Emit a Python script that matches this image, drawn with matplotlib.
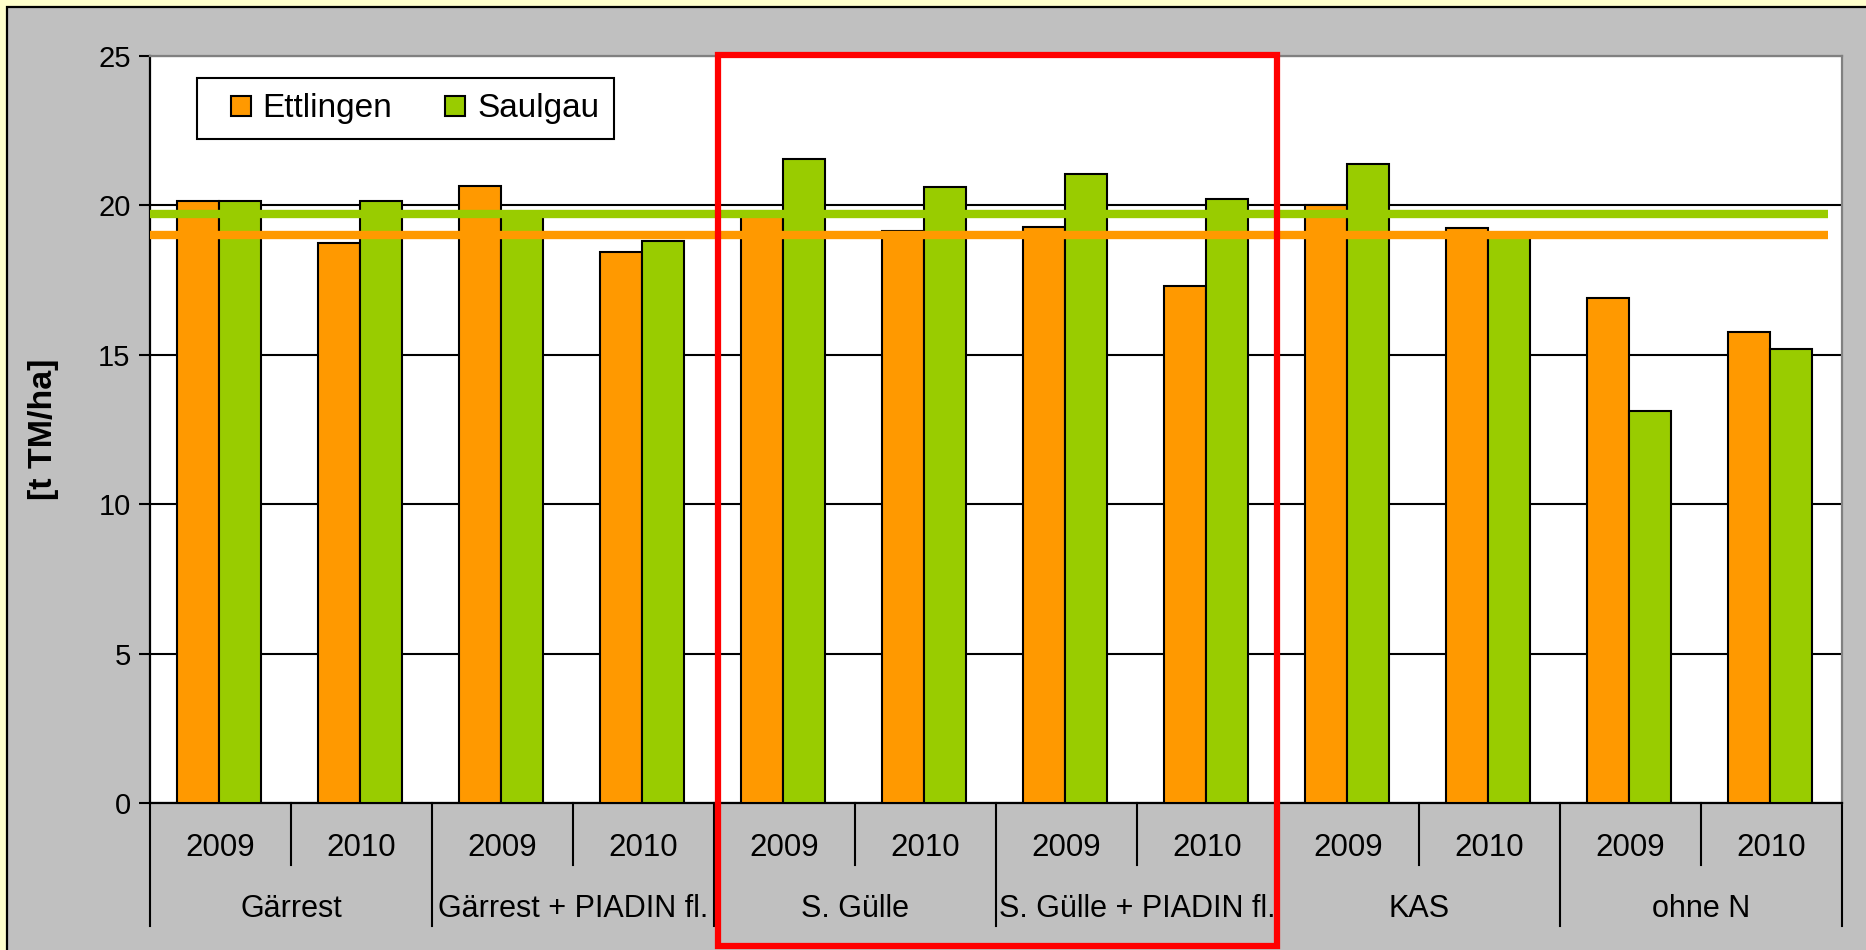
import matplotlib
matplotlib.use("Agg")
import matplotlib.pyplot as plt
from matplotlib.patches import Rectangle
from matplotlib.lines import Line2D
from matplotlib.transforms import blended_transform_factory
import numpy as np

# ---- data ----
groups = ["Gärrest", "Gärrest + PIADIN fl.", "S. Gülle", "S. Gülle + PIADIN fl.", "KAS", "ohne N"]
years = ["2009", "2010"]
series_names = ["Ettlingen", "Saulgau"]
ettlingen = [20.15, 18.75, 20.65, 18.45, 19.7, 19.15, 19.27, 17.3, 20.0, 19.25, 16.9, 15.75]
saulgau = [20.15, 20.15, 19.7, 18.82, 21.55, 20.6, 21.05, 20.22, 21.37, 19.0, 13.12, 15.18]
mean_ettlingen = 19.0
mean_saulgau = 19.7
highlight_groups = ["S. Gülle", "S. Gülle + PIADIN fl."]
yticks = [0, 5, 10, 15, 20, 25]
ylabel = "[t TM/ha]"

# ---- style ----
ORANGE = "#FF9900"
GREEN = "#99CC00"
GRAY = "#C0C0C0"
YELLOW = "#FFFFCC"
FONT = ["Liberation Sans", "DejaVu Sans"]
plt.rcParams["font.family"] = FONT

W, H = 1866, 950
fig = plt.figure(figsize=(W / 100, H / 100), dpi=100)
fig.patch.set_facecolor(YELLOW)

# gray chart area with black frame (only top/left edges visible)
bg = Rectangle((7 / W, -0.05), 1.2, 1 - 7 / H + 0.05, transform=fig.transFigure,
               facecolor=GRAY, edgecolor="black", linewidth=1.6, zorder=-10)
fig.patches.append(bg)

left, right, top, bottom = 150, 1842, 56, 803
ax = fig.add_axes([left / W, 1 - bottom / H, (right - left) / W, (bottom - top) / H])
ax.set_zorder(1)
ax.set_facecolor("white")

n = len(groups) * len(years)
x = np.arange(n) + 0.49
bw = 0.295
ax.bar(x - bw / 2, ettlingen, width=bw, color=ORANGE, edgecolor="black", linewidth=1.5, zorder=3)
ax.bar(x + bw / 2, saulgau, width=bw, color=GREEN, edgecolor="black", linewidth=1.5, zorder=3)

# average lines
ax.plot([0, n - 0.1], [mean_saulgau] * 2, color=GREEN, lw=6, solid_capstyle="butt", zorder=4)
ax.plot([0, n - 0.1], [mean_ettlingen] * 2, color=ORANGE, lw=6, solid_capstyle="butt", zorder=4)

ax.set_xlim(0, n)
ax.set_ylim(0, 25)
ax.set_yticks(yticks)
ax.set_yticklabels([str(v) for v in yticks], fontsize=21)
ax.yaxis.grid(True, color="black", linewidth=1.5, zorder=1)
ax.set_axisbelow(True)
ax.tick_params(axis="y", direction="out", length=8, width=1.5, pad=6)
ax.set_xticks([])
for s in ["left", "bottom"]:
    ax.spines[s].set_color("black")
    ax.spines[s].set_linewidth(1.6)
for s in ["top", "right"]:
    ax.spines[s].set_color("#808080")
    ax.spines[s].set_linewidth(1.6)

ax.set_ylabel(ylabel, fontsize=24.5, fontweight="bold", labelpad=28)

# category axis (multi-level)
tr = blended_transform_factory(ax.transData, ax.transAxes)
year_bottom, group_bottom = -0.083, -0.165
for k in range(n + 1):
    yb = group_bottom if k % len(years) == 0 else year_bottom
    ax.plot([k, k], [0, yb], transform=tr, color="black", lw=1.5, clip_on=False)
for i in range(n):
    ax.text(i + 0.5, -0.060, years[i % len(years)], transform=tr, ha="center", va="center", fontsize=22.5)
for g, name in enumerate(groups):
    ax.text(g * len(years) + len(years) / 2, -0.142, name, transform=tr, ha="center", va="center", fontsize=22)

# legend
handles = [Line2D([], [], linestyle="none", marker="s", markersize=14.5, markerfacecolor=c,
                  markeredgecolor="black", markeredgewidth=1.5) for c in (ORANGE, GREEN)]
leg = ax.legend(handles, series_names, loc="upper left", bbox_to_anchor=(0.028, 0.970), ncol=2,
                frameon=True, fancybox=False, edgecolor="black", framealpha=1, fontsize=24,
                handlelength=1.7, handletextpad=-0.2, columnspacing=1.05,
                borderpad=0.45, borderaxespad=0)
leg.get_frame().set_linewidth(1.5)
leg.set_zorder(6)

# red highlight rectangle
idx = [groups.index(g) for g in highlight_groups]
x0 = min(idx) * len(years) + 0.03
x1 = (max(idx) + 1) * len(years) - 0.01
trf = blended_transform_factory(ax.transData, fig.transFigure)
y0, y1 = 1 - 946 / H, 1 - 54.7 / H
rect = Rectangle((x0, y0), x1 - x0, y1 - y0, transform=trf, fill=False,
                 edgecolor="#FF0000", linewidth=4.5, clip_on=False, zorder=10)
ax.add_patch(rect)

fig.savefig("out.png", dpi=100, facecolor=fig.get_facecolor())
